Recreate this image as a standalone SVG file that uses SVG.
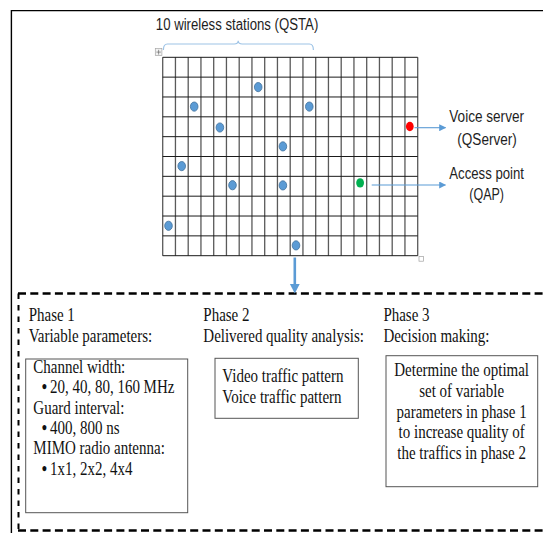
<svg xmlns="http://www.w3.org/2000/svg" width="543" height="533" viewBox="0 0 543 533">
  <style>
    .sans { font-family: "Liberation Sans", Arial, sans-serif; font-size: 15.8px; fill: #1e1e1e; }
    .serif { font-family: "Liberation Serif", "Times New Roman", serif; font-size: 18px; fill: #111; }
    .bullet { font-weight: bold; }
    .gridv { stroke: #5a5a5a; stroke-width: 1.3; fill: none; }
    .gridh { stroke: #1a1a1a; stroke-width: 1; fill: none; }
    .sta { fill: #5B9BD5; stroke: #41719C; stroke-width: 0.8; }
    .link { stroke: #5B9BD5; stroke-width: 1.1; fill: none; }
    .box { fill: #fff; stroke: #555; stroke-width: 1; }
    .dash { stroke: #000; stroke-width: 2.6; fill: none; }
  </style>
  <defs>
    <marker id="tip" viewBox="0 0 10 10" refX="9" refY="5" markerWidth="7" markerHeight="7" markerUnits="userSpaceOnUse" orient="auto">
      <path d="M0,0 L10,5 L0,10 Z" fill="#5B9BD5"/>
    </marker>
  </defs>

  <rect width="543" height="533" fill="#fff"/>

  <!-- outer frame (top and left edges) -->
  <path d="M11.4,533 L11.4,10.6 L543,10.6" fill="none" stroke="#000" stroke-width="1.4"/>

  <!-- dashed phase container -->
  <g id="phase-container">
    <line class="dash" x1="18" y1="293.5" x2="543" y2="293.5" stroke-dasharray="8 4.3"/>
    <line class="dash" x1="18" y1="530.5" x2="543" y2="530.5" stroke-dasharray="8 4.3"/>
    <line x1="18.5" y1="293.5" x2="18.5" y2="530.5" stroke="#000" stroke-width="2" stroke-dasharray="5.5 6"/>
  </g>

  <!-- station count label with brace -->
  <g id="qsta-label">
    <text class="sans" x="155.8" y="30" textLength="162.5" lengthAdjust="spacingAndGlyphs">10 wireless stations (QSTA)</text>
    <path d="M163.4,50 Q163.4,44 167.4,44 L234.2,44 Q238.2,44 238.2,40.8 Q238.2,44 242.2,44 L309.4,44 Q313.4,44 313.4,50" fill="none" stroke="#9DC3E6" stroke-width="1.2"/>
  </g>

  <!-- table handles -->
  <g id="table-handles">
    <rect x="155.3" y="48.6" width="6.6" height="7" fill="#f2f2f2" stroke="#a6a6a6" stroke-width="0.7"/>
    <path d="M158.6,49.8 V54.6 M156.4,52.1 H160.8" stroke="#555" stroke-width="0.6"/>
    <rect x="419" y="256.6" width="4.6" height="4.6" fill="#fff" stroke="#a0a0a0" stroke-width="0.7"/>
  </g>

  <!-- grid of 20 x 10 cells -->
  <g id="grid">
    <path class="gridv" d="M162.7,57.3V255.7 M175.45,57.3V255.7 M188.2,57.3V255.7 M200.95,57.3V255.7 M213.7,57.3V255.7 M226.45,57.3V255.7 M239.2,57.3V255.7 M251.95,57.3V255.7 M264.7,57.3V255.7 M277.45,57.3V255.7 M290.2,57.3V255.7 M302.95,57.3V255.7 M315.7,57.3V255.7 M328.45,57.3V255.7 M341.2,57.3V255.7 M353.95,57.3V255.7 M366.7,57.3V255.7 M379.45,57.3V255.7 M392.2,57.3V255.7 M404.95,57.3V255.7 M417.7,57.3V255.7"/>
    <path class="gridh" d="M162.7,57.3H417.7 M162.7,77.14H417.7 M162.7,96.98H417.7 M162.7,116.82H417.7 M162.7,136.66H417.7 M162.7,156.5H417.7 M162.7,176.34H417.7 M162.7,196.18H417.7 M162.7,216.02H417.7 M162.7,235.86H417.7 M162.7,255.7H417.7"/>
  </g>

  <!-- wireless stations -->
  <g id="stations">
    <ellipse class="sta" cx="258.2" cy="87.1" rx="3.8" ry="4.6"/>
    <ellipse class="sta" cx="194.2" cy="106.6" rx="3.8" ry="4.6"/>
    <ellipse class="sta" cx="309.3" cy="106.6" rx="3.8" ry="4.6"/>
    <ellipse class="sta" cx="219.9" cy="127.5" rx="3.8" ry="4.6"/>
    <ellipse class="sta" cx="282.9" cy="146.4" rx="3.8" ry="4.6"/>
    <ellipse class="sta" cx="181.7" cy="166.1" rx="3.8" ry="4.6"/>
    <ellipse class="sta" cx="232.5" cy="185.2" rx="3.8" ry="4.6"/>
    <ellipse class="sta" cx="282.9" cy="185.4" rx="3.8" ry="4.6"/>
    <ellipse class="sta" cx="168.5" cy="225.8" rx="3.8" ry="4.6"/>
    <ellipse class="sta" cx="296" cy="245.4" rx="3.8" ry="4.6"/>
  </g>

  <g id="qserver">
    <ellipse cx="409.8" cy="126.5" rx="3.9" ry="4.7" fill="#FF0000"/>
    <text class="sans" x="449.3" y="121.5" textLength="74.7" lengthAdjust="spacingAndGlyphs">Voice server</text>
    <text class="sans" x="457.3" y="145" textLength="59.5" lengthAdjust="spacingAndGlyphs">(QServer)</text>
  </g>

  <g id="qap">
    <ellipse cx="360.1" cy="182.9" rx="3.9" ry="4.7" fill="#00B050"/>
    <text class="sans" x="449.3" y="178.5" textLength="74.7" lengthAdjust="spacingAndGlyphs">Access point</text>
    <text class="sans" x="469.3" y="200" textLength="34.7" lengthAdjust="spacingAndGlyphs">(QAP)</text>
  </g>

  <!-- connectors -->
  <g id="connectors">
    <line class="link" x1="414.5" y1="127.7" x2="445.5" y2="127.7" marker-end="url(#tip)"/>
    <line class="link" x1="371.7" y1="185" x2="445.5" y2="185" marker-end="url(#tip)"/>
    <line x1="294.8" y1="257.5" x2="294.8" y2="285" stroke="#5B9BD5" stroke-width="2.6"/>
    <path d="M289.9,284 L299.7,284 L294.8,293.5 Z" fill="#5B9BD5"/>
  </g>

  <!-- phase boxes -->
  <g id="phase1-box">
    <rect class="box" x="25.7" y="359" width="162" height="153.7"/>
  </g>
  <g id="phase2-box">
    <rect class="box" x="215" y="358.3" width="143.3" height="60"/>
  </g>
  <g id="phase3-box">
    <rect class="box" x="386" y="355.7" width="151.7" height="131"/>
  </g>

  <!-- serif labels, set slightly condensed -->
  <g transform="scale(0.8333 1)">
    <g id="phase1">
      <text class="serif" x="34.4" y="321">Phase 1</text>
      <text class="serif" x="34.4" y="341.8">Variable parameters:</text>
      <text class="serif" x="40" y="373.3">Channel width:</text>
      <text class="serif" y="393.3"><tspan class="bullet" x="50">•</tspan><tspan x="60">20, 40, 80, 160 MHz</tspan></text>
      <text class="serif" x="40" y="414">Guard interval:</text>
      <text class="serif" y="434.3"><tspan class="bullet" x="50">•</tspan><tspan x="60">400, 800 ns</tspan></text>
      <text class="serif" x="40" y="454.3">MIMO radio antenna:</text>
      <text class="serif" y="475"><tspan class="bullet" x="50">•</tspan><tspan x="60">1x1, 2x2, 4x4</tspan></text>
    </g>
    <g id="phase2">
      <text class="serif" x="244" y="321">Phase 2</text>
      <text class="serif" x="244" y="341.8">Delivered quality analysis:</text>
      <text class="serif" x="266.8" y="381.7">Video traffic pattern</text>
      <text class="serif" x="266.8" y="403.3">Voice traffic pattern</text>
    </g>
    <g id="phase3">
      <text class="serif" x="460.1" y="321">Phase 3</text>
      <text class="serif" x="460.1" y="341.8">Decision making:</text>
      <g text-anchor="middle">
        <text class="serif" x="554" y="376">Determine the optimal</text>
        <text class="serif" x="554" y="396.8">set of variable</text>
        <text class="serif" x="554" y="417.6">parameters in phase 1</text>
        <text class="serif" x="554" y="438.4">to increase quality of</text>
        <text class="serif" x="554" y="459.2">the traffics in phase 2</text>
      </g>
    </g>
  </g>
</svg>
